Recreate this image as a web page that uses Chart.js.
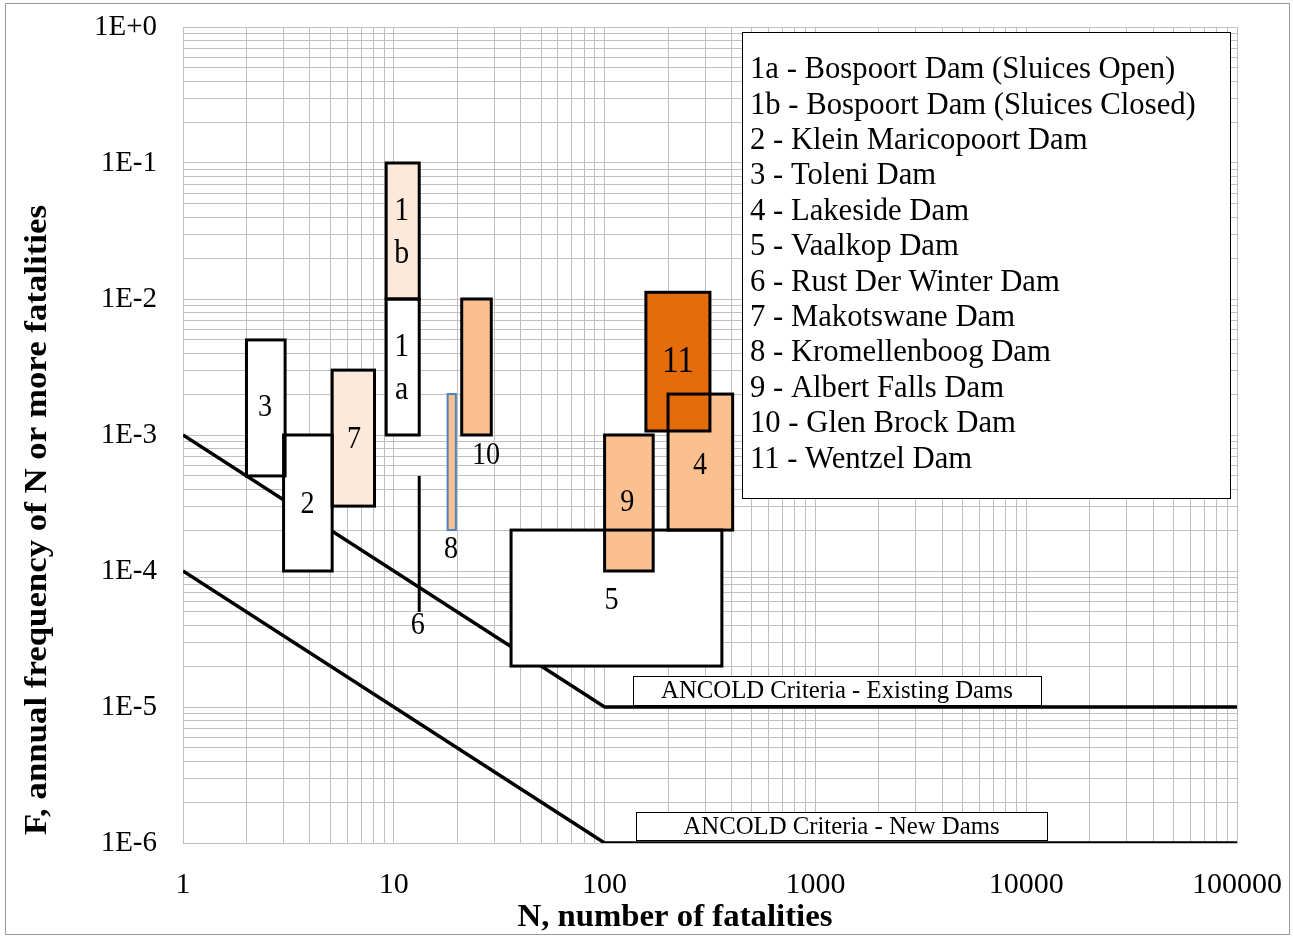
<!DOCTYPE html>
<html lang="en">
<head>
<meta charset="UTF-8">
<title>F-N chart - dams</title>
<script src="https://cdn.jsdelivr.net/npm/chart.js@4.4.1/dist/chart.umd.min.js"></script>
<style>
    html, body { margin: 0; padding: 0; background: #fff; }
    #wrap { width: 1293px; height: 938px; position: relative; }
</style>
</head>
<body>
<div id="wrap"><canvas id="fn" width="1293" height="938"></canvas></div>
<script>
// ANCOLD criteria lines
const criteriaN = [1, 100, 100000];
const existingF = [1e-3, 1e-5, 1e-5];
const newF = [1e-4, 1e-6, 1e-6];

// 6 - Rust Der Winter Dam (drawn as a line)
const rustN = [13.2, 13.2];
const rustF = [5e-5, 5e-4];

// dam boxes (N range, F range), in drawing order
const damTags = ['1\nb', '1\na', '3', '2', '7', '8', '10', '5', '9', '4', '11'];
const damNMin = [9.2, 9.2, 2.0, 3.0, 5.1, 18, 21, 36, 100, 200, 157];
const damNMax = [13.2, 13.2, 3.05, 5.1, 8.1, 19.7, 29, 360, 170, 405, 316];
const damFMin = [0.01, 1e-3, 5e-4, 1e-4, 3e-4, 2e-4, 1e-3, 2e-5, 1e-4, 2e-4, 1.07e-3];
const damFMax = [0.1, 0.01, 5e-3, 1e-3, 3e-3, 2e-3, 1e-2, 2e-4, 1e-3, 2e-3, 1.12e-2];
const damFill = ['#fde9d9', '#ffffff', '#ffffff', '#ffffff', '#fde9d9', '#fac090', '#fac090', '#ffffff', '#fac090', '#fac090', '#e46c0a'];
const damStroke = ['#000', '#000', '#000', '#000', '#000', '#4f81bd', '#000', '#000', '#000', '#000', '#000'];
// where each tag is written
const tagN = [10.9, 10.9, 2.45, 3.9, 6.47, 18.7, 27.4, 108, 128, 284, 223, 13.0];
const tagF = [0.031, 3.1e-3, 1.58e-3, 3.1e-4, 9.2e-4, 1.43e-4, 7.1e-4, 6.1e-5, 3.16e-4, 6.0e-4, 3.4e-3, 4.0e-5];
const rustTag = '6';

const legendItems = [
    '1a - Bospoort Dam (Sluices Open)',
    '1b - Bospoort Dam (Sluices Closed)',
    '2 - Klein Maricopoort Dam',
    '3 - Toleni Dam',
    '4 - Lakeside Dam',
    '5 - Vaalkop Dam',
    '6 - Rust Der Winter Dam',
    '7 - Makotswane Dam',
    '8 - Kromellenboog Dam',
    '9 - Albert Falls Dam',
    '10 - Glen Brock Dam',
    '11 - Wentzel Dam'
];

const xTitle = 'N, number of fatalities';
const yTitle = 'F, annual frequency of N or more fatalities';
const existingLabel = 'ANCOLD Criteria - Existing Dams';
const newLabel = 'ANCOLD Criteria - New Dams';

const serif = '"Liberation Serif", "Times New Roman", serif';

function logTicks(lo, hi) {
    const out = [];
    for (let e = lo; e < hi; e++) {
        for (let k = 1; k < 10; k++) out.push(Number((k * Math.pow(10, e)).toPrecision(3)));
    }
    out.push(Math.pow(10, hi));
    return out;
}
function isDecade(v) {
    const l = Math.log10(v);
    return Math.abs(l - Math.round(l)) < 1e-9;
}
const toPts = (xs, ys) => xs.map((x, i) => ({x: x, y: ys[i]}));

// text squeezed sideways a little, like the original picture
function narrowText(ctx, s, x, y, sx) {
    ctx.save();
    ctx.translate(x, y);
    ctx.scale(sx, 1);
    ctx.fillText(s, 0, 0);
    ctx.restore();
}

const boxPlugin = {
    id: 'boxes',
    afterDatasetsDraw(chart) {
        const {ctx, scales: {x, y}} = chart;
        ctx.save();
        const rects = damTags.map((t, i) => {
            const x1 = x.getPixelForValue(damNMin[i]), x2 = x.getPixelForValue(damNMax[i]);
            const y1 = y.getPixelForValue(damFMax[i]), y2 = y.getPixelForValue(damFMin[i]);
            return [x1, y1, x2 - x1, y2 - y1];
        });
        rects.forEach((r, i) => {
            ctx.fillStyle = damFill[i];
            ctx.fillRect(r[0], r[1], r[2], r[3]);
        });
        rects.forEach((r, i) => {
            ctx.strokeStyle = damStroke[i];
            ctx.lineWidth = damStroke[i] === '#000' ? 3 : 2;
            ctx.strokeRect(r[0], r[1], r[2], r[3]);
        });
        // tags
        ctx.fillStyle = '#000';
        ctx.textAlign = 'center';
        ctx.textBaseline = 'middle';
        const tags = damTags.concat([rustTag]);
        tags.forEach((t, i) => {
            const px = x.getPixelForValue(tagN[i]);
            const py = y.getPixelForValue(tagF[i]);
            const size = t === '11' ? 37 : (t.length > 2 ? 34 : 32);
            ctx.font = size + 'px ' + serif;
            const lines = t.split('\n');
            lines.forEach((s, j) => {
                narrowText(ctx, s, px, py + (j - (lines.length - 1) / 2) * 43, 0.88);
            });
        });
        ctx.restore();
    },
    afterDraw(chart) {
        const {ctx} = chart;
        ctx.save();
        // legend box
        ctx.fillStyle = '#fff';
        ctx.fillRect(742, 32, 488, 466);
        ctx.strokeStyle = '#000';
        ctx.lineWidth = 1;
        ctx.strokeRect(742.5, 32.5, 488, 466);
        ctx.fillStyle = '#000';
        ctx.font = '31px ' + serif;
        ctx.textAlign = 'left';
        ctx.textBaseline = 'middle';
        legendItems.forEach((s, i) => narrowText(ctx, s, 750, 70 + i * 35.4, 0.99));

        // criteria labels
        ctx.font = '25px ' + serif;
        ctx.textAlign = 'center';
        [[existingLabel, 633, 676, 408, 29], [newLabel, 636, 812, 411, 28]].forEach(b => {
            ctx.fillStyle = '#fff';
            ctx.fillRect(b[1], b[2], b[3], b[4]);
            ctx.strokeStyle = '#000';
            ctx.strokeRect(b[1] + 0.5, b[2] + 0.5, b[3], b[4]);
            ctx.fillStyle = '#000';
            narrowText(ctx, b[0], b[1] + b[3] / 2, b[2] + b[4] / 2 + 1, 0.99);
        });

        // axis titles, stretched to the span they take in the original
        ctx.font = 'bold 31px ' + serif;
        narrowText(ctx, xTitle, 675, 918, 315 / ctx.measureText(xTitle).width);
        ctx.font = 'bold 31px ' + serif;
        const sy = 630 / ctx.measureText(yTitle).width;
        ctx.translate(38, 520);
        ctx.rotate(-Math.PI / 2);
        narrowText(ctx, yTitle, 0, 0, sy);
        ctx.restore();

        // outer frame
        ctx.save();
        ctx.strokeStyle = '#9a9a9a';
        ctx.lineWidth = 1;
        ctx.strokeRect(5.5, 3.5, 1284, 931);
        ctx.restore();
    }
};

const lineStyle = {showLine: true, borderColor: '#000', borderWidth: 3.5, pointRadius: 0, fill: false};

new Chart(document.getElementById('fn'), {
    type: 'scatter',
    data: {
        datasets: [
            Object.assign({label: 'Existing', data: toPts(criteriaN, existingF)}, lineStyle),
            Object.assign({label: 'New', data: toPts(criteriaN, newF)}, lineStyle),
            Object.assign({label: 'Rust', data: toPts(rustN, rustF)}, lineStyle, {borderWidth: 3})
        ]
    },
    options: {
        responsive: false,
        animation: false,
        events: [],
        layout: {padding: {left: 0, right: 56, top: 27, bottom: 0}},
        plugins: {legend: {display: false}, tooltip: {enabled: false}},
        scales: {
            x: {
                type: 'logarithmic',
                min: 1, max: 100000,
                afterBuildTicks: s => { s.ticks = logTicks(0, 5).map(v => ({value: v})); },
                afterFit: s => { s.height = 95; s.paddingLeft = 0; s.paddingRight = 0; },
                grid: {color: '#c0c0c0', lineWidth: 1, drawTicks: false},
                border: {color: '#c0c0c0'},
                ticks: {
                    autoSkip: false, maxRotation: 0, padding: 24, color: '#000',
                    font: {family: serif, size: 30},
                    callback: v => isDecade(v) ? String(Math.round(v)) : ''
                }
            },
            y: {
                type: 'logarithmic',
                min: 1e-6, max: 1,
                afterBuildTicks: s => { s.ticks = logTicks(-6, 0).map(v => ({value: v})); },
                afterFit: s => { s.width = 183; s.paddingTop = 0; s.paddingBottom = 0; },
                grid: {color: '#c0c0c0', lineWidth: 1, drawTicks: false},
                border: {color: '#c0c0c0'},
                ticks: {
                    autoSkip: false, padding: 26, color: '#000',
                    font: {family: serif, size: 29},
                    callback: v => {
                        if (!isDecade(v)) return '';
                        const e = Math.round(Math.log10(v));
                        return '1E' + (e >= 0 ? '+' : '') + e;
                    }
                }
            }
        }
    },
    plugins: [boxPlugin]
});
</script>
</body>
</html>
